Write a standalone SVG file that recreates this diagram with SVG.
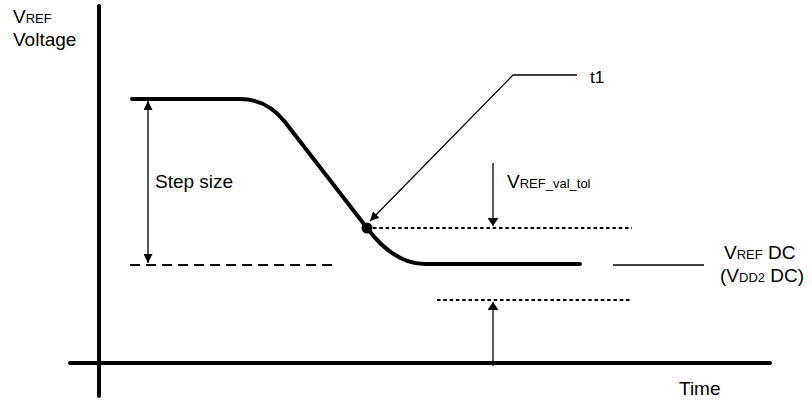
<svg xmlns="http://www.w3.org/2000/svg" width="812" height="403" viewBox="0 0 812 403">
<style>
text{font-family:"Liberation Sans",Arial,sans-serif;font-size:19px;fill:#000}
.sm{font-size:13px}
.axis{stroke:#000;stroke-width:4;fill:none;stroke-linecap:round}
.curve{stroke:#000;stroke-width:4;fill:none;stroke-linecap:round;stroke-linejoin:round}
.thin{stroke:#000;stroke-width:1.3;fill:none}
.dash{stroke:#000;stroke-width:2;fill:none;stroke-dasharray:10 6}
.dot{stroke:#000;stroke-width:2;fill:none;stroke-dasharray:3.5 2.8}
</style>
<defs>
<marker id="ah" viewBox="0 0 10 10" refX="10" refY="5" markerWidth="9" markerHeight="9" markerUnits="userSpaceOnUse" orient="auto-start-reverse">
<path d="M0,0 L10,5 L0,10 z" fill="#000"/>
</marker>
<marker id="ahw" viewBox="0 0 10 10" refX="10" refY="5" markerWidth="8" markerHeight="11" markerUnits="userSpaceOnUse" orient="auto" preserveAspectRatio="none">
<path d="M0,0 L10,5 L0,10 z" fill="#000"/>
</marker>
</defs>
<g id="axes">
<line class="axis" x1="99" y1="6" x2="99" y2="396"/>
<line class="axis" x1="70" y1="363" x2="770" y2="363"/>
</g>
<g id="labels-axes">
<text x="13" y="23">V<tspan class="sm">REF</tspan></text>
<text x="13" y="46">Voltage</text>
<text x="679" y="395">Time</text>
</g>
<g id="waveform">
<path class="curve" d="M132,99 L240,99 Q267,99 285,122 L367,228 Q394,264 425,264 L580,264"/>
<circle cx="367" cy="228" r="5.5" fill="#000"/>
</g>
<g id="reference-lines">
<line class="dash" x1="130" y1="265" x2="334" y2="265"/>
<line class="dot" x1="373" y1="228" x2="632" y2="228"/>
<line class="dot" x1="437" y1="300" x2="632" y2="300"/>
</g>
<g id="connectors">
<line class="thin" x1="148" y1="101" x2="148" y2="263" marker-start="url(#ah)" marker-end="url(#ah)"/>
<line class="thin" x1="493" y1="163" x2="493" y2="226" marker-end="url(#ahw)"/>
<line class="thin" x1="493" y1="366" x2="493" y2="302" marker-end="url(#ahw)"/>
<polyline class="thin" points="577,75 513,75 370,221" marker-end="url(#ah)"/>
<line class="thin" x1="613" y1="265" x2="704" y2="265"/>
</g>
<g id="label-step">
<text x="155" y="188">Step size</text>
</g>
<g id="label-t1">
<text x="590" y="83" style="font-size:17px">t1</text>
</g>
<g id="label-tol">
<text x="507" y="188">V<tspan class="sm">REF_val_tol</tspan></text>
</g>
<g id="label-dc">
<text x="724" y="259">V<tspan class="sm">REF</tspan> DC</text>
<text x="720" y="282">(V<tspan class="sm">DD2</tspan> DC)</text>
</g>
</svg>
